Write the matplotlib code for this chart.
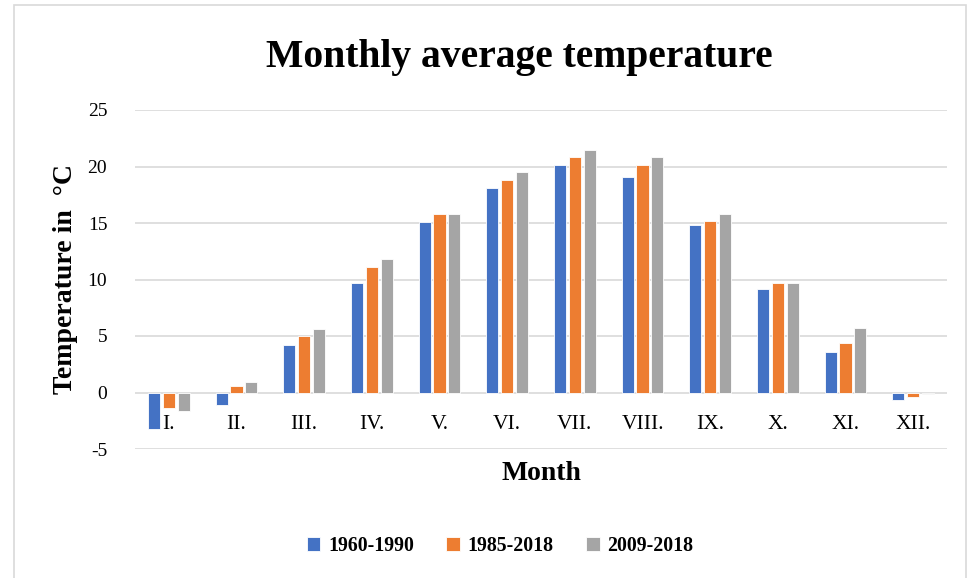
"""Monthly average temperature: grouped bars for three reference periods."""
import numpy as np
import matplotlib
matplotlib.use("Agg")
import matplotlib.pyplot as plt
from matplotlib.patches import Rectangle

months = ["I.", "II.", "III.", "IV.", "V.", "VI.", "VII.", "VIII.", "IX.", "X.", "XI.", "XII."]
periods = ["1960-1990", "1985-2018", "2009-2018"]
t_1960_1990 = [-3.2, -1.1, 4.2, 9.7, 15.1, 18.1, 20.1, 19.1, 14.8, 9.2, 3.6, -0.7]
t_1985_2018 = [-1.4, 0.6, 5.0, 11.1, 15.8, 18.8, 20.8, 20.1, 15.2, 9.7, 4.4, -0.4]
t_2009_2018 = [-1.6, 0.9, 5.6, 11.8, 15.8, 19.5, 21.5, 20.8, 15.8, 9.7, 5.7, -0.1]
colors = ["#4472C4", "#ED7D31", "#A5A5A5"]

plt.rcParams["font.family"] = ["Liberation Serif", "DejaVu Serif"]
plt.rcParams["axes.unicode_minus"] = False

fig = plt.figure(figsize=(9.7, 5.78), dpi=100)
# axes box in pixels: x 135..947, y 110..449 (top = 25, bottom = -5)
ax = fig.add_axes([135/970, 1 - 449/578, (947-135)/970, (449-110)/578])

x = np.arange(len(months))
w = 0.18
step = 0.22
for k, (vals, lab, c) in enumerate(zip([t_1960_1990, t_1985_2018, t_2009_2018], periods, colors)):
    ax.bar(x + (k-1)*step, vals, width=w, color=c, edgecolor="white", linewidth=0.6,
           label=lab, zorder=3)

ax.set_xlim(-0.5, len(months) - 0.5)
ax.set_ylim(-5, 25)
ax.set_yticks(range(-5, 26, 5))
ax.yaxis.grid(True, color="#D9D9D9", lw=1.2, zorder=0)
ax.set_axisbelow(True)
for s in ax.spines.values():
    s.set_visible(False)
ax.spines["bottom"].set_position(("data", 0))
ax.set_xticks(x)
ax.set_xticklabels(months, fontsize=15.5)
ax.tick_params(axis="x", length=0, pad=16)
ax.tick_params(axis="y", length=0, pad=20, labelsize=14)

fig.text(541/970, 1 - 473/578, "Month", ha="center", va="center", fontsize=20, fontweight="bold")
fig.text(66/970, 1 - 279/578, "Temperature in  \u00b0C", ha="center", va="center",
         rotation=90, fontsize=20, fontweight="bold")
fig.text(519/970, 1 - 57/578, "Monthly average temperature", ha="center", va="center",
         fontsize=28.5, fontweight="bold")

fig.legend(loc="center", bbox_to_anchor=(500/970, 1 - 546/578), ncol=3, frameon=False,
           prop={"weight": "bold", "size": 14.3}, handlelength=0.7, handleheight=0.7,
           handletextpad=0.4, columnspacing=1.6)

fig.patches.append(Rectangle((14/970, -0.01), (966-14)/970, 1.01 - 5/578,
                             transform=fig.transFigure, fill=False,
                             edgecolor="#D9D9D9", lw=1.2))

fig.savefig("out.png", dpi=100)
